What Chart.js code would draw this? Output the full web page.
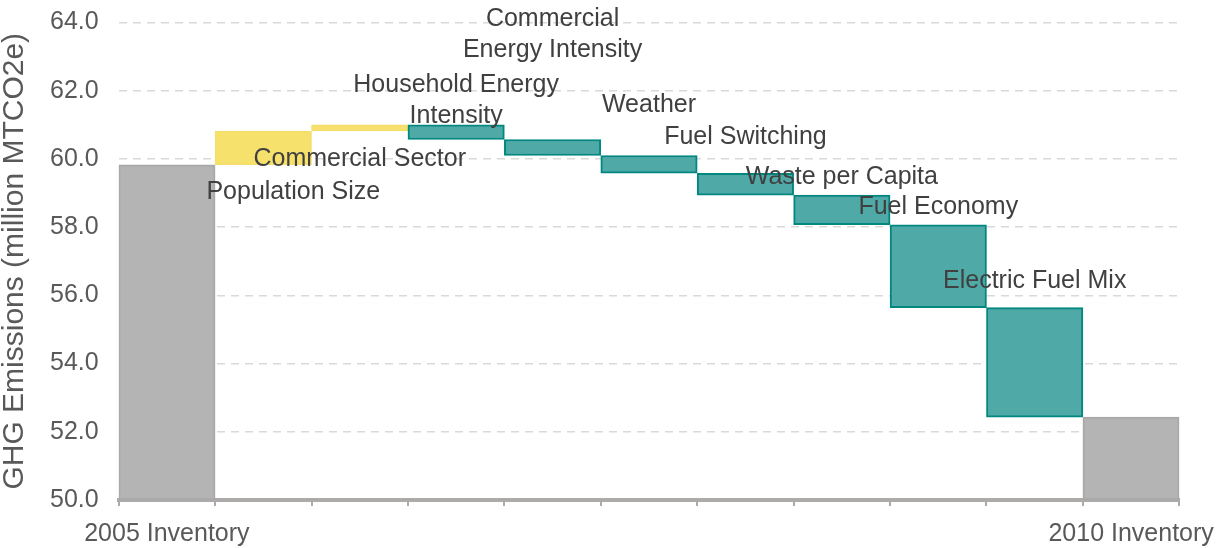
<!DOCTYPE html>
<html>
<head>
<meta charset="utf-8">
<script src="https://cdn.jsdelivr.net/npm/chart.js@4"></script>
<style>
  html, body { margin: 0; padding: 0; background: #fff; }
  #wrap { width: 1232px; height: 548px; }
</style>
</head>
<body>
<div id="wrap"><canvas id="waterfall"></canvas></div>
<script>
// categories along the x axis
const categories = ['2005 Inventory', 'Population Size', 'Commercial Sector', 'Household Energy Intensity',
  'Commercial Energy Intensity', 'Weather', 'Fuel Switching', 'Waste per Capita',
  'Fuel Economy', 'Electric Fuel Mix', '2010 Inventory'];
// bar bottoms and tops (million MTCO2e)
const barStart = [50, 59.83, 60.82, 61.0, 60.57, 60.10, 59.58, 58.94, 58.07, 55.64, 50];
const barEnd   = [59.83, 60.82, 61.0, 60.57, 60.10, 59.58, 58.94, 58.07, 55.64, 52.43, 52.43];
// label text per bar (lines)
const barLabels = [null, ['Population Size'], ['Commercial Sector'], ['Household Energy', 'Intensity'],
  ['Commercial', 'Energy Intensity'], ['Weather'], ['Fuel Switching'], ['Waste per Capita'],
  ['Fuel Economy'], ['Electric Fuel Mix'], null];
const yTicks = [50, 52, 54, 56, 58, 60, 62, 64];

const kind = ['total', 'up', 'up', 'down', 'down', 'down', 'down', 'down', 'down', 'down', 'total'];
const fillFor = { total: '#B4B4B4', up: '#F7E16D', down: '#4FA9A7' };
const edgeFor = { total: '#A8A8A8', up: '#F5DF6A', down: '#00877F' };

// where each label sits (value on y axis of its last line, x shift in px)
const labelPlace = [null, [59.03, 30], [60.0, 0], [61.26, 0], [63.2, 0], [61.59, 0],
  [60.65, 0], [59.47, 0], [58.59, 0], [56.41, 0], null];

const FONT = '"Liberation Sans", Arial, sans-serif';

const labelPlugin = {
  id: 'barText',
  afterDatasetsDraw(chart) {
    const { ctx, scales } = chart;
    ctx.save();
    ctx.font = '25px ' + FONT;
    ctx.fillStyle = '#404040';
    ctx.textAlign = 'center';
    ctx.textBaseline = 'middle';
    barLabels.forEach((lines, i) => {
      if (!lines) return;
      const x = scales.x.getPixelForValue(i) + labelPlace[i][1];
      const yLast = scales.y.getPixelForValue(labelPlace[i][0]);
      lines.forEach((t, k) => {
        ctx.fillText(t, x, yLast - (lines.length - 1 - k) * 31);
      });
    });
    ctx.restore();
  }
};

new Chart(document.getElementById('waterfall'), {
  type: 'bar',
  data: {
    labels: categories,
    datasets: [{
      data: categories.map((c, i) => [barStart[i], barEnd[i]]),
      backgroundColor: kind.map(k => fillFor[k]),
      borderColor: kind.map(k => edgeFor[k]),
      borderWidth: 2,
      borderSkipped: false,
      categoryPercentage: 1,
      barPercentage: 1
    }]
  },
  options: {
    responsive: true,
    maintainAspectRatio: false,
    animation: false,
    layout: { padding: { top: 0, right: 48, left: 0, bottom: 0 } },
    plugins: { legend: { display: false }, tooltip: { enabled: false } },
    scales: {
      x: {
        afterFit: axis => { axis.height = 48; },
        grid: { display: true, drawOnChartArea: false, drawTicks: true, tickLength: 6, offset: true, color: '#ADAAAA', lineWidth: 2 },
        border: { display: true, color: '#ADAAAA', width: 4 },
        ticks: {
          autoSkip: false, maxRotation: 0, padding: 16,
          color: '#595959',
          font: { family: FONT, size: 25, lineHeight: 1.0 },
          callback: (v, i) => (i === 0 || i === categories.length - 1) ? categories[i] : ''
        }
      },
      y: {
        min: 50, max: 64,
        afterBuildTicks: axis => { axis.ticks = yTicks.map(v => ({ value: v })); },
        grid: { color: '#D9D9D9', lineWidth: 1.5, drawTicks: false },
        border: { display: false, dash: [8, 6] },
        ticks: {
          padding: 20, color: '#595959',
          font: { family: FONT, size: 25, lineHeight: 0.2 },
          callback: v => v.toFixed(1)
        },
        title: {
          display: true, text: 'GHG Emissions (million MTCO2e)', color: '#595959',
          font: { family: FONT, size: 30, lineHeight: 1.0 }, padding: 0
        }
      }
    }
  },
  plugins: [labelPlugin]
});
</script>
</body>
</html>
